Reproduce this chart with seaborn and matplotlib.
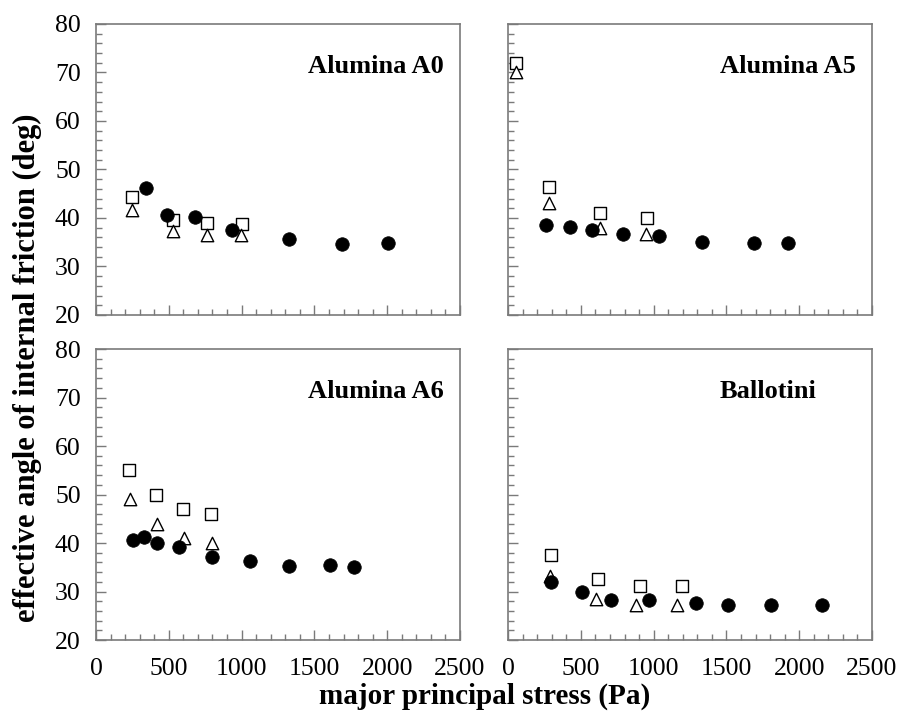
import matplotlib
matplotlib.use("Agg")
import matplotlib.pyplot as plt
from matplotlib.ticker import MultipleLocator
import seaborn as sns
import pandas as pd

# 数据
panels = ["Alumina A0", "Alumina A5", "Alumina A6", "Ballotini"]

a0_circle_x = [340, 490, 682, 932, 1326, 1687, 2005]
a0_circle_y = [46.2, 40.6, 40.3, 37.5, 35.7, 34.6, 34.8]
a0_square_x = [245, 527, 762, 1005]
a0_square_y = [44.3, 39.6, 38.9, 38.8]
a0_tri_x = [245, 527, 762, 998]
a0_tri_y = [41.6, 37.3, 36.4, 36.5]

a5_circle_x = [259, 424, 576, 791, 1037, 1333, 1686, 1920]
a5_circle_y = [38.6, 38.1, 37.5, 36.7, 36.2, 35.1, 34.9, 34.9]
a5_square_x = [53, 284, 631, 954]
a5_square_y = [71.9, 46.3, 41.1, 39.9]
a5_tri_x = [53, 284, 635, 950]
a5_tri_y = [70.2, 43.0, 37.9, 36.8]

a6_circle_x = [256, 332, 419, 568, 795, 1055, 1328, 1605, 1772]
a6_circle_y = [40.7, 41.2, 40.0, 39.2, 37.1, 36.2, 35.3, 35.4, 35.1]
a6_square_x = [229, 412, 598, 790]
a6_square_y = [55.0, 49.9, 47.1, 46.0]
a6_tri_x = [234, 417, 607, 799]
a6_tri_y = [49.1, 43.9, 41.1, 40.1]

ba_circle_x = [294, 509, 709, 968, 1294, 1514, 1808, 2159]
ba_circle_y = [32.0, 29.8, 28.3, 28.3, 27.6, 27.3, 27.3, 27.2]
ba_square_x = [294, 617, 904, 1193]
ba_square_y = [37.6, 32.5, 31.2, 31.1]
ba_tri_x = [291, 603, 876, 1158]
ba_tri_y = [33.3, 28.5, 27.3, 27.3]

series = [
    (a0_circle_x, a0_circle_y, a0_square_x, a0_square_y, a0_tri_x, a0_tri_y),
    (a5_circle_x, a5_circle_y, a5_square_x, a5_square_y, a5_tri_x, a5_tri_y),
    (a6_circle_x, a6_circle_y, a6_square_x, a6_square_y, a6_tri_x, a6_tri_y),
    (ba_circle_x, ba_circle_y, ba_square_x, ba_square_y, ba_tri_x, ba_tri_y),
]

sns.set_style("white")
plt.rcParams['font.family'] = ['Liberation Serif', 'DejaVu Serif']
plt.rcParams['text.color'] = 'black'
plt.rcParams['axes.labelcolor'] = 'black'

fig, axes = plt.subplots(2, 2, figsize=(8.99, 7.12), dpi=100, sharex=True, sharey=True)
fig.subplots_adjust(left=0.1068, right=0.970, top=0.9663, bottom=0.1011,
                    wspace=0.132, hspace=0.117)

spine_col = "#7a7a7a"
for ax, name, (cx, cy, sx, sy, tx, ty) in zip(axes.flat, panels, series):
    df_c = pd.DataFrame({"x": cx, "y": cy})
    df_s = pd.DataFrame({"x": sx, "y": sy})
    df_t = pd.DataFrame({"x": tx, "y": ty})
    sns.scatterplot(data=df_s, x="x", y="y", marker="s", s=75, color="white",
                    edgecolor="black", linewidth=1.0, ax=ax, zorder=3)
    sns.scatterplot(data=df_t, x="x", y="y", marker="^", s=80, color="white",
                    edgecolor="black", linewidth=1.0, ax=ax, zorder=3)
    sns.scatterplot(data=df_c, x="x", y="y", marker="o", s=95, color="black",
                    edgecolor="black", linewidth=0.5, ax=ax, zorder=4)

    ax.set_xlim(0, 2500)
    ax.set_ylim(20, 80)
    ax.xaxis.set_major_locator(MultipleLocator(500))
    ax.xaxis.set_minor_locator(MultipleLocator(100))
    ax.yaxis.set_major_locator(MultipleLocator(10))
    ax.yaxis.set_minor_locator(MultipleLocator(2))
    ax.tick_params(which="both", direction="in", colors=spine_col,
                   labelcolor="black", labelsize=18.5, top=False, right=False,
                   bottom=True, left=True)
    ax.tick_params(which="major", length=7, width=1)
    ax.tick_params(which="minor", length=4, width=1)
    for sp in ax.spines.values():
        sp.set_color(spine_col)
        sp.set_linewidth(1.2)
    ax.set_xlabel("")
    ax.set_ylabel("")
    ax.text(0.582, 0.855, name, transform=ax.transAxes, ha="left", va="center",
            fontsize=19, fontweight="bold", color="black")

for ax in axes[1, :]:
    ax.tick_params(axis="x", labelbottom=True, pad=13)
for ax in axes[:, 0]:
    ax.tick_params(axis="y", labelleft=True, pad=11)

fig.text(0.539, 0.022, "major principal stress (Pa)", ha="center", va="center",
         fontsize=21, fontweight="bold", color="black")
fig.text(0.031, 0.483, "effective angle of internal friction (deg)", ha="center",
         va="center", rotation=90, fontsize=22, fontweight="bold", color="black")

fig.savefig("out.png", dpi=100)
